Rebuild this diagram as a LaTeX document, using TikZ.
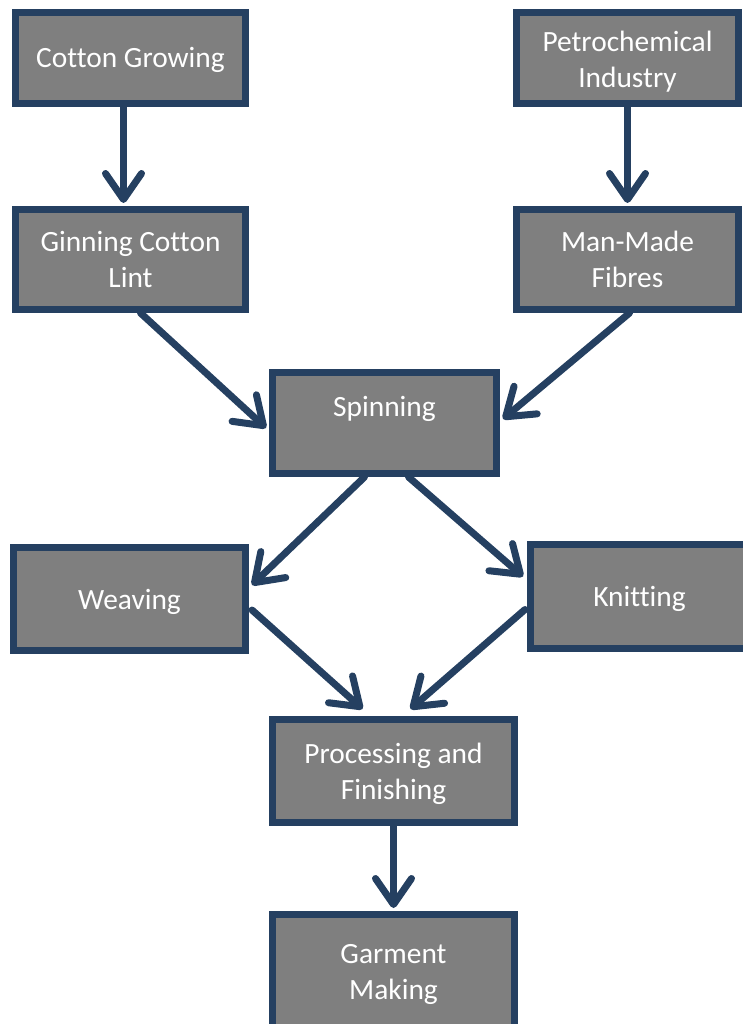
\documentclass[tikz,border=0pt]{standalone}
\usepackage{fontspec}
\setmainfont{Carlito}[Ligatures=CommonOff]
\usetikzlibrary{arrows.meta,calc}
\definecolor{edgeblue}{RGB}{37,64,97}
\definecolor{boxgray}{RGB}{127,127,127}
\tikzset{
  procbox/.style={draw=edgeblue, line width=7pt, fill=boxgray, rectangle,
    text=white, align=center, inner sep=0pt,
    font=\fontsize{29.4}{36}\selectfont,
    text height=26pt, text depth=6pt},
  twoline/.style={text height=62pt, text depth=6pt},
  flow/.style={draw=edgeblue, line width=7pt, line cap=round,
    -{Straight Barb[length=26pt, width=36pt, round]}}
}
\begin{document}
\begin{tikzpicture}[x=1pt, y=-1pt]
\clip (0,0) rectangle (743,1024);
\node[procbox, minimum width=230pt, minimum height=91pt] (cg) at (130.5,58) {Cotton Growing};
\node[procbox, twoline, minimum width=230pt, minimum height=100pt] (gin) at (130.5,259.5) {Ginning Cotton\\Lint};
\node[procbox, twoline, text height=66pt, minimum width=222pt, minimum height=91pt] (pet) at (627.5,58) {Petrochemical\\Industry};
\node[procbox, twoline, minimum width=222pt, minimum height=100pt] (mmf) at (627.5,259.5) {Man-Made\\Fibres};
\node[procbox, minimum width=224pt, minimum height=101pt, text height=20pt, text depth=34pt] (spin) at (384.5,423) {Spinning};
\node[procbox, minimum width=232pt, minimum height=103pt] (weav) at (129.5,599) {Weaving};
\node[procbox, minimum width=218pt, minimum height=104pt] (knit) at (639.5,596.5) {Knitting};
\node[procbox, twoline, minimum width=242pt, minimum height=103pt] (proc) at (393.5,771) {Processing and\\Finishing};
\node[procbox, twoline, minimum width=242pt, minimum height=113pt] (gar) at (393.5,971) {Garment\\Making};

\draw[flow] ($(cg.south)+(-7,0)$) -- ($(gin.north)+(-7,-3)$);
\draw[flow] (pet.south) -- ($(mmf.north)+(0,-3)$);
\draw[flow] ($(gin.south)+(10,0)$) -- ($(spin.west)+(-3,5)$);
\draw[flow] ($(mmf.south)+(2,0)$) -- ($(spin.east)+(3,-4)$);
\draw[flow] ($(spin.south)+(-20,0)$) -- ($(weav.east)+(3,-14)$);
\draw[flow] ($(spin.south)+(24,0)$) -- ($(knit.west)+(-4,-20)$);
\draw[flow] ($(weav.east)+(3,11)$) -- ($(proc.north)+(-31,-7)$);
\draw[flow] ($(knit.west)+(-2,13)$) -- ($(proc.north)+(17,-7)$);
\draw[flow] (proc.south) -- ($(gar.north)+(0,-3)$);
\end{tikzpicture}
\end{document}
